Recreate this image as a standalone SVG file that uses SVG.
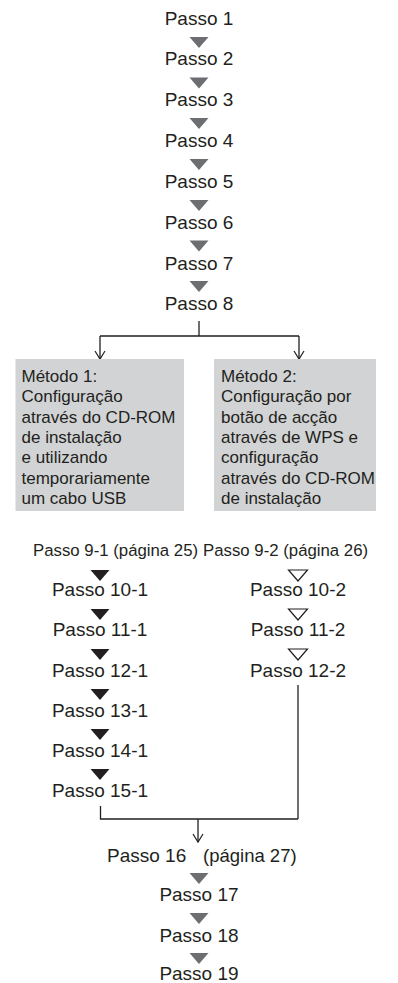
<svg xmlns="http://www.w3.org/2000/svg" width="398" height="983" viewBox="0 0 398 983">
<defs>
<style>
.t{font-family:"Liberation Sans",Arial,sans-serif;font-size:19px;fill:#231f20;text-anchor:middle}
.s{font-family:"Liberation Sans",Arial,sans-serif;font-size:16.8px;fill:#231f20}
.b{font-family:"Liberation Sans",Arial,sans-serif;font-size:17px;fill:#231f20}
.box{fill:#d1d3d4}
.g{fill:#6d6e71}
.k{fill:#231f20}
.o{fill:#fff;stroke:#231f20;stroke-width:1.2}
.ln{fill:none;stroke:#231f20;stroke-width:1.3}
</style>
<marker id="ah" markerWidth="12" markerHeight="12" refX="10" refY="6" orient="auto" markerUnits="userSpaceOnUse" viewBox="0 0 12 12">
<path d="M2,1 L10,6 L2,11" fill="none" stroke="#231f20" stroke-width="1.2"/>
</marker>
<path id="tri" d="M-9.5,0 L9.5,0 L0,11 Z"/>
</defs>
<rect width="398" height="983" fill="#fff"/>
<g id="connectors">
<path class="ln" d="M199,321 V336 M100,336 H299"/>
<path class="ln" d="M100,336 V359" marker-end="url(#ah)"/>
<path class="ln" d="M299,336 V359" marker-end="url(#ah)"/>
<path class="ln" d="M100.5,806 V819 H298 M298,685 V819"/>
<path class="ln" d="M198,819 V842" marker-end="url(#ah)"/>
<use href="#tri" class="g" x="199" y="37"/>
<use href="#tri" class="g" x="199" y="77.5"/>
<use href="#tri" class="g" x="199" y="118"/>
<use href="#tri" class="g" x="199" y="159"/>
<use href="#tri" class="g" x="199" y="200"/>
<use href="#tri" class="g" x="199" y="240.5"/>
<use href="#tri" class="g" x="199" y="281"/>
<use href="#tri" class="k" x="100" y="570"/>
<use href="#tri" class="k" x="100" y="609"/>
<use href="#tri" class="k" x="100" y="649"/>
<use href="#tri" class="k" x="100" y="689"/>
<use href="#tri" class="k" x="100" y="729"/>
<use href="#tri" class="k" x="100" y="769"/>
<use href="#tri" class="o" x="298" y="570"/>
<use href="#tri" class="o" x="298" y="609"/>
<use href="#tri" class="o" x="298" y="649"/>
<use href="#tri" class="g" x="199" y="873"/>
<use href="#tri" class="g" x="199" y="913"/>
<use href="#tri" class="g" x="199" y="953"/>
</g>
<g id="p1"><text class="t" x="199" y="24.5">Passo 1</text></g>
<g id="p2"><text class="t" x="199" y="65.3">Passo 2</text></g>
<g id="p3"><text class="t" x="199" y="106">Passo 3</text></g>
<g id="p4"><text class="t" x="199" y="147">Passo 4</text></g>
<g id="p5"><text class="t" x="199" y="188">Passo 5</text></g>
<g id="p6"><text class="t" x="199" y="228.5">Passo 6</text></g>
<g id="p7"><text class="t" x="199" y="269.5">Passo 7</text></g>
<g id="p8"><text class="t" x="199" y="310">Passo 8</text></g>
<g id="m1">
<rect class="box" x="15.5" y="359" width="168.5" height="152"/>
<text class="b" x="21.5" y="381.7">Método 1:</text>
<text class="b" x="21.5" y="402">Configuração</text>
<text class="b" x="21.5" y="422.5">através do CD-ROM</text>
<text class="b" x="21.5" y="443">de instalação</text>
<text class="b" x="21.5" y="463">e utilizando</text>
<text class="b" x="21.5" y="483.5">temporariamente</text>
<text class="b" x="21.5" y="504">um cabo USB</text>
</g>
<g id="m2">
<rect class="box" x="214" y="359" width="162" height="152"/>
<text class="b" x="221" y="381.7">Método 2:</text>
<text class="b" x="221" y="402">Configuração por</text>
<text class="b" x="221" y="422.5">botão de acção</text>
<text class="b" x="221" y="443">através de WPS e</text>
<text class="b" x="221" y="463">configuração</text>
<text class="b" x="221" y="483.5">através do CD-ROM</text>
<text class="b" x="221" y="504">de instalação</text>
</g>
<g id="p9-1"><text class="s" x="33" y="556">Passo 9-1 (página 25)</text></g>
<g id="p10-1"><text class="t" x="100" y="596">Passo 10-1</text></g>
<g id="p11-1"><text class="t" x="100" y="636">Passo 11-1</text></g>
<g id="p12-1"><text class="t" x="100" y="676.5">Passo 12-1</text></g>
<g id="p13-1"><text class="t" x="100" y="716.5">Passo 13-1</text></g>
<g id="p14-1"><text class="t" x="100" y="756.5">Passo 14-1</text></g>
<g id="p15-1"><text class="t" x="100" y="796.5">Passo 15-1</text></g>
<g id="p9-2"><text class="s" x="203" y="556">Passo 9-2 (página 26)</text></g>
<g id="p10-2"><text class="t" x="298" y="596">Passo 10-2</text></g>
<g id="p11-2"><text class="t" x="298" y="636">Passo 11-2</text></g>
<g id="p12-2"><text class="t" x="298" y="676.5">Passo 12-2</text></g>
<g id="p16"><text class="t" x="107" y="862" style="text-anchor:start">Passo 16<tspan x="203" style="font-size:18.5px">(página 27)</tspan></text></g>
<g id="p17"><text class="t" x="199" y="901">Passo 17</text></g>
<g id="p18"><text class="t" x="199" y="941.5">Passo 18</text></g>
<g id="p19"><text class="t" x="199" y="980">Passo 19</text></g>
</svg>
